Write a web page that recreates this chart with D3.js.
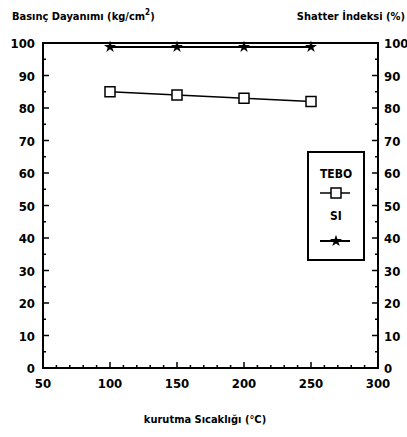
<!DOCTYPE html>
<html>
<head>
<meta charset="utf-8">
<script src="https://cdn.jsdelivr.net/npm/d3@7"></script>
<style>
body{margin:0;background:#fff}
text{font-family:"Liberation Sans Narrow","DejaVu Sans Condensed",sans-serif;font-weight:bold;fill:#000}
</style>
</head>
<body>
<div id="chart"></div>
<script>
// data
const temps = [100, 150, 200, 250]
const tebo = [85, 84, 83, 82]
const si = [98.8, 98.8, 98.8, 98.8]
const xTicks = [50, 100, 150, 200, 250, 300]
const yTicks = [0, 10, 20, 30, 40, 50, 60, 70, 80, 90, 100]

const width = 407, height = 437
const svg = d3.select("#chart").append("svg").attr("width", width).attr("height", height)

const x = d3.scaleLinear().domain([50, 300]).range([43, 378])
const y = d3.scaleLinear().domain([0, 100]).range([368, 43])

// frame
svg.append("rect").attr("x", x(50)).attr("y", y(100))
  .attr("width", x(300) - x(50)).attr("height", y(0) - y(100))
  .attr("fill", "none").attr("stroke", "#000").attr("stroke-width", 2)

// ticks inward
const g = svg.append("g").attr("stroke", "#000").attr("stroke-width", 1.5)
d3.range(50, 301, 10).forEach(v => {
  const len = v % 50 === 0 ? 6 : 3
  g.append("line").attr("x1", x(v)).attr("x2", x(v)).attr("y1", y(0)).attr("y2", y(0) - len)
})
d3.range(0, 101, 5).forEach(v => {
  const len = v % 10 === 0 ? 6 : 3
  g.append("line").attr("x1", x(50)).attr("x2", x(50) + len).attr("y1", y(v)).attr("y2", y(v))
  g.append("line").attr("x1", x(300)).attr("x2", x(300) - len).attr("y1", y(v)).attr("y2", y(v))
})

// tick labels
svg.selectAll(".xl").data(xTicks).enter().append("text")
  .attr("x", d => x(d)).attr("y", y(0) + 20).attr("text-anchor", "middle")
  .attr("font-size", 13).text(d => d)
svg.selectAll(".yl").data(yTicks).enter().append("text")
  .attr("x", x(50) - 8).attr("y", d => y(d) + 5).attr("text-anchor", "end")
  .attr("font-size", 13).text(d => d)
svg.selectAll(".yr").data(yTicks).enter().append("text")
  .attr("x", x(300) + 6).attr("y", d => y(d) + 5).attr("text-anchor", "start")
  .attr("font-size", 13).text(d => d)

// titles
const t1 = svg.append("text").attr("x", 12).attr("y", 20).attr("font-size", 11)
t1.append("tspan").text("Basınç Dayanımı (kg/cm")
t1.append("tspan").attr("dy", -5).attr("font-size", 8).text("2")
t1.append("tspan").attr("dy", 5).text(")")
svg.append("text").attr("x", 405).attr("y", 20).attr("text-anchor", "end").attr("font-size", 11)
  .text("Shatter İndeksi (%)")
svg.append("text").attr("x", 205).attr("y", 423).attr("text-anchor", "middle").attr("font-size", 11)
  .text("kurutma Sıcaklığı (°C)")

const line = d3.line().x(d => x(d[0])).y(d => y(d[1]))
const star = d3.symbol().type(d3.symbolStar).size(45)

// SI series
svg.append("path").datum(temps.map((t, i) => [t, si[i]])).attr("d", line)
  .attr("fill", "none").attr("stroke", "#000").attr("stroke-width", 2)
svg.selectAll(".si").data(temps).enter().append("path")
  .attr("transform", (d, i) => `translate(${x(d)},${y(si[i])})`).attr("d", star).attr("fill", "#000")

// TEBO series
svg.append("path").datum(temps.map((t, i) => [t, tebo[i]])).attr("d", line)
  .attr("fill", "none").attr("stroke", "#000").attr("stroke-width", 1.5)
svg.selectAll(".tb").data(temps).enter().append("rect")
  .attr("x", d => x(d) - 5).attr("y", (d, i) => y(tebo[i]) - 5)
  .attr("width", 10).attr("height", 10).attr("fill", "#fff").attr("stroke", "#000").attr("stroke-width", 1.5)

// legend
const lg = svg.append("g")
lg.append("rect").attr("x", 308).attr("y", 152).attr("width", 56).attr("height", 108)
  .attr("fill", "#fff").attr("stroke", "#000").attr("stroke-width", 2)
lg.append("text").attr("x", 336).attr("y", 178).attr("text-anchor", "middle").attr("font-size", 12).text("TEBO")
lg.append("line").attr("x1", 320).attr("x2", 350).attr("y1", 193).attr("y2", 193).attr("stroke", "#000").attr("stroke-width", 1.5)
lg.append("rect").attr("x", 331).attr("y", 188).attr("width", 10).attr("height", 10).attr("fill", "#fff").attr("stroke", "#000").attr("stroke-width", 1.5)
lg.append("text").attr("x", 336).attr("y", 220).attr("text-anchor", "middle").attr("font-size", 12).text("SI")
lg.append("line").attr("x1", 320).attr("x2", 350).attr("y1", 241).attr("y2", 241).attr("stroke", "#000").attr("stroke-width", 2)
lg.append("path").attr("transform", "translate(336,241)").attr("d", star).attr("fill", "#000")
</script>
</body>
</html>
